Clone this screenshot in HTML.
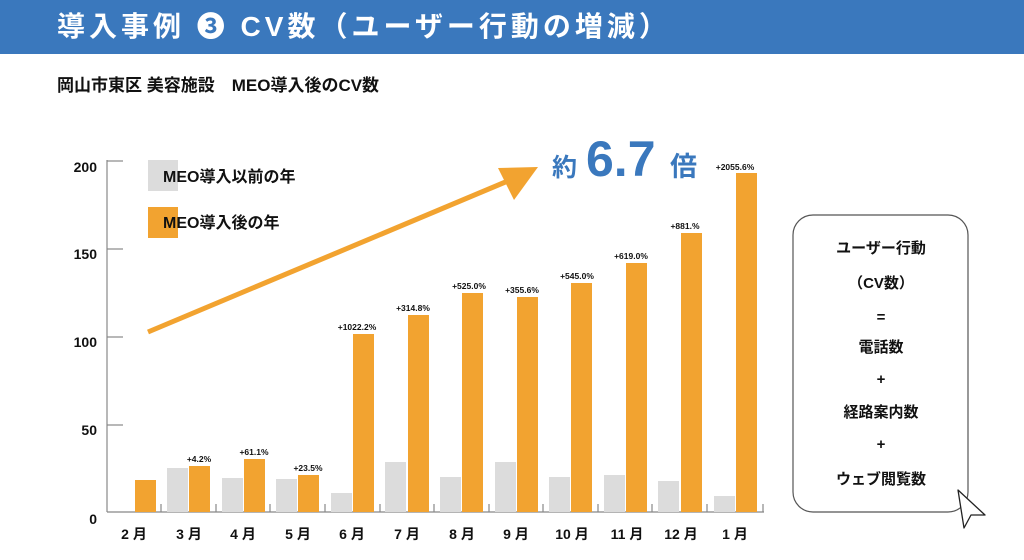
<!DOCTYPE html>
<html><head><meta charset="utf-8"><style>
body{margin:0;width:1024px;height:555px;overflow:hidden;background:#fff;font-family:"Liberation Sans","Noto Sans CJK JP",sans-serif;}
</style></head><body>
<svg width="1024" height="555" viewBox="0 0 1024 555" xmlns="http://www.w3.org/2000/svg" font-family="'Liberation Sans','Noto Sans CJK JP',sans-serif">
<rect x="0" y="0" width="1024" height="54" fill="#3a78bd"/>
<text x="57" y="36" font-size="28" font-weight="bold" fill="#fff" letter-spacing="4">導入事例 ❸ CV数（ユーザー行動の増減）</text>
<text x="57" y="91" font-size="17" font-weight="bold" fill="#111">岡山市東区  美容施設　MEO導入後のCV数</text>
<line x1="107" y1="160" x2="107" y2="512" stroke="#888" stroke-width="1.2"/>
<line x1="107" y1="512" x2="764" y2="512" stroke="#888" stroke-width="1.2"/>
<g stroke="#888" stroke-width="1.2">
<line x1="107" y1="161" x2="123" y2="161"/><line x1="107" y1="249" x2="123" y2="249"/><line x1="107" y1="337" x2="123" y2="337"/><line x1="107" y1="425" x2="123" y2="425"/>
<line x1="161" y1="504" x2="161" y2="512"/><line x1="216" y1="504" x2="216" y2="512"/><line x1="270" y1="504" x2="270" y2="512"/><line x1="325" y1="504" x2="325" y2="512"/><line x1="380" y1="504" x2="380" y2="512"/><line x1="434" y1="504" x2="434" y2="512"/><line x1="489" y1="504" x2="489" y2="512"/><line x1="543" y1="504" x2="543" y2="512"/><line x1="598" y1="504" x2="598" y2="512"/><line x1="652" y1="504" x2="652" y2="512"/><line x1="707" y1="504" x2="707" y2="512"/><line x1="763" y1="504" x2="763" y2="512"/>
</g>
<g font-size="14" font-weight="bold" fill="#111" text-anchor="end">
<text x="97" y="172">200</text><text x="97" y="259">150</text><text x="97" y="347">100</text><text x="97" y="435">50</text><text x="97" y="524">0</text>
</g>
<g fill="#dcdcdc">
<rect x="167" y="468" width="21" height="44"/>
<rect x="222" y="478" width="21" height="34"/>
<rect x="276" y="479" width="21" height="33"/>
<rect x="331" y="493" width="21" height="19"/>
<rect x="385" y="462" width="21" height="50"/>
<rect x="440" y="477" width="21" height="35"/>
<rect x="495" y="462" width="21" height="50"/>
<rect x="549" y="477" width="21" height="35"/>
<rect x="604" y="475" width="21" height="37"/>
<rect x="658" y="481" width="21" height="31"/>
<rect x="714" y="496" width="21" height="16"/>
</g>
<g fill="#f2a330">
<rect x="135" y="480" width="21" height="32"/>
<rect x="189" y="466" width="21" height="46"/>
<rect x="244" y="459" width="21" height="53"/>
<rect x="298" y="475" width="21" height="37"/>
<rect x="353" y="334" width="21" height="178"/>
<rect x="408" y="315" width="21" height="197"/>
<rect x="462" y="293" width="21" height="219"/>
<rect x="517" y="297" width="21" height="215"/>
<rect x="571" y="283" width="21" height="229"/>
<rect x="626" y="263" width="21" height="249"/>
<rect x="681" y="233" width="21" height="279"/>
<rect x="736" y="173" width="21" height="339"/>
</g>
<g font-size="8.5" font-weight="bold" fill="#111" text-anchor="middle">
<text x="199" y="462">+4.2%</text>
<text x="254" y="455">+61.1%</text>
<text x="308" y="471">+23.5%</text>
<text x="357" y="330">+1022.2%</text>
<text x="413" y="311">+314.8%</text>
<text x="469" y="289">+525.0%</text>
<text x="522" y="293">+355.6%</text>
<text x="577" y="279">+545.0%</text>
<text x="631" y="259">+619.0%</text>
<text x="685" y="229">+881.%</text>
<text x="735" y="170">+2055.6%</text>
</g>
<g font-size="14" font-weight="bold" fill="#111" text-anchor="middle">
<text x="134" y="539">2 月</text><text x="189" y="539">3 月</text><text x="243" y="539">4 月</text><text x="298" y="539">5 月</text><text x="352" y="539">6 月</text><text x="407" y="539">7 月</text><text x="462" y="539">8 月</text><text x="516" y="539">9 月</text><text x="572" y="539">10 月</text><text x="627" y="539">11 月</text><text x="681" y="539">12 月</text><text x="735" y="539">1 月</text>
</g>
<rect x="148" y="160" width="30" height="31" fill="#dcdcdc"/>
<rect x="148" y="207" width="30" height="31" fill="#f2a330"/>
<text x="163" y="182" font-size="16" font-weight="bold" fill="#111">MEO導入以前の年</text>
<text x="163" y="228" font-size="16" font-weight="bold" fill="#111">MEO導入後の年</text>
<line x1="148" y1="332" x2="515" y2="178" stroke="#f2a330" stroke-width="5"/>
<polygon points="538,167 498,168 514,200" fill="#f2a330"/>
<text x="552" y="176" font-size="25" font-weight="bold" fill="#3a78bd">約</text>
<text x="586" y="176" font-size="50" font-weight="bold" fill="#3a78bd">6.7</text>
<text x="670" y="176" font-size="27" font-weight="bold" fill="#3a78bd">倍</text>
<rect x="793" y="215" width="175" height="297" rx="20" fill="#fff" stroke="#555" stroke-width="1.2"/>
<g font-size="15" font-weight="bold" fill="#111" text-anchor="middle">
<text x="881" y="253">ユーザー行動</text>
<text x="881" y="288">（CV数）</text>
<text x="881" y="322">=</text>
<text x="881" y="352">電話数</text>
<text x="881" y="384">+</text>
<text x="881" y="417">経路案内数</text>
<text x="881" y="449">+</text>
<text x="881" y="484">ウェブ閲覧数</text>
</g>
<polygon points="958,490 985,515 971,515 964,528" fill="#fff" stroke="#222" stroke-width="1.3" stroke-linejoin="round"/>
</svg>
</body></html>
